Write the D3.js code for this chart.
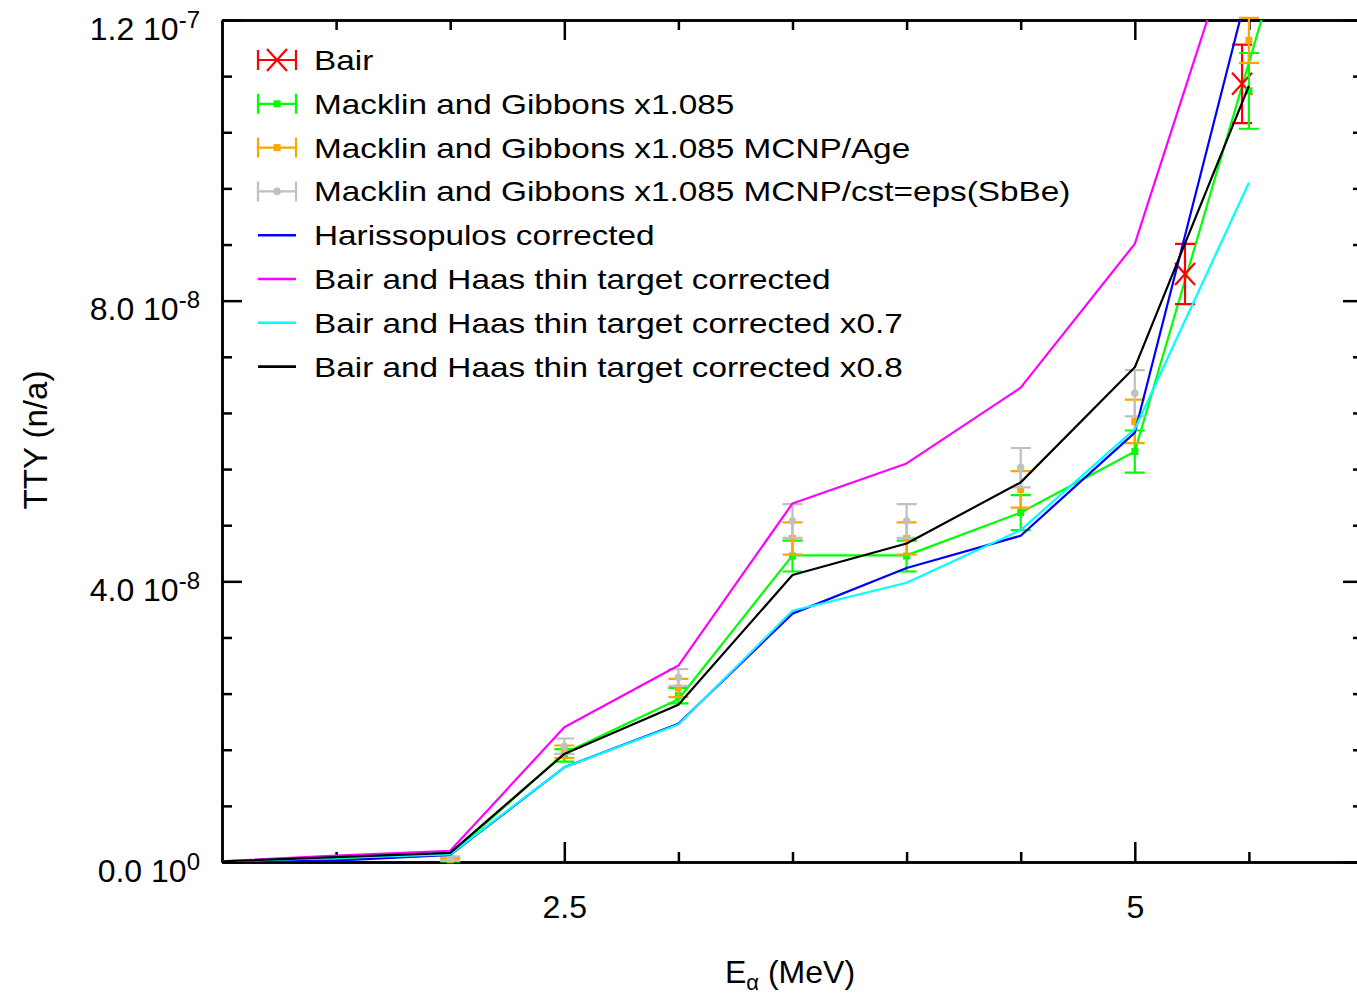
<!DOCTYPE html>
<html>
<head>
<meta charset="utf-8">
<script src="https://cdn.jsdelivr.net/npm/d3@7"></script>
<style>
  body { margin: 0; background: #fff; }
  text { font-family: 'Liberation Sans', Arial, sans-serif; }
</style>
</head>
<body>
<div class="canvas"></div>
<script>
// data, yields in units of 1e-8 n/a
const energies = [1.0, 1.5, 2.0, 2.5, 3.0, 3.5, 4.0, 4.5, 5.0, 5.5];
const harissopulos = [0.0, 0.02, 0.10, 1.35, 1.97, 3.54, 4.19, 4.65, 6.12, 12.5];
const bairHaas = [0.01, 0.09, 0.16, 1.92, 2.80, 5.11, 5.68, 6.76, 8.81, 13.83];
const bairHaas07 = [0.01, 0.06, 0.11, 1.35, 1.96, 3.58, 3.98, 4.73, 6.17, 9.68];
const bairHaas08 = [0.01, 0.07, 0.13, 1.54, 2.24, 4.09, 4.54, 5.41, 7.05, 11.06];

// green line drawn through Macklin and Gibbons (no key entry)
const macklinLineE = [1.0, 1.5, 2.0, 2.5, 3.0, 3.5, 4.0, 4.5, 5.0, 5.6];
const macklinLine = [0.0, 0.04, 0.10, 1.55, 2.32, 4.37, 4.37, 4.98, 5.85, 12.5];

const macklinE = [2.0, 2.5, 3.0, 3.5, 4.0, 4.5, 5.0, 5.5];
const macklin = [0.03, 1.52, 2.37, 4.36, 4.36, 4.98, 5.85, 10.99];
const macklinErr = [0.02, 0.09, 0.11, 0.22, 0.22, 0.25, 0.30, 0.54];
const mcnpAge = [0.04, 1.57, 2.48, 4.61, 4.61, 5.31, 6.28, 11.71];
const mcnpAgeErr = [0.02, 0.09, 0.13, 0.23, 0.23, 0.26, 0.31, 0.32];
const mcnpEpsE = [2.0, 2.5, 3.0, 3.5, 4.0, 4.5, 5.0];
const mcnpEps = [0.05, 1.65, 2.63, 4.86, 4.86, 5.62, 6.68];
const mcnpEpsErr = [0.03, 0.11, 0.12, 0.24, 0.24, 0.28, 0.33];

const bairE = [5.22, 5.47];
const bair = [8.38, 11.09];
const bairErr = [0.43, 0.56];

const xTicks = [2.5, 5];
const xMinorTicks = [1.5, 2, 3, 3.5, 4, 4.5, 5.5];
const yTicks = [0, 4e-8, 8e-8, 1.2e-7];

const legendLabels = [
  'Bair',
  'Macklin and Gibbons x1.085',
  'Macklin and Gibbons x1.085 MCNP/Age',
  'Macklin and Gibbons x1.085 MCNP/cst=eps(SbBe)',
  'Harissopulos corrected',
  'Bair and Haas thin target corrected',
  'Bair and Haas thin target corrected x0.7',
  'Bair and Haas thin target corrected x0.8'
];
const legendColors = ['#ff0000', '#00ff00', '#ffa500', '#c0c0c0', '#0000ff', '#ff00ff', '#00ffff', '#000000'];
const legendKinds = ['cross', 'square', 'square', 'circle', 'line', 'line', 'line', 'line'];

const svg = d3.select('.canvas')
  .append('svg')
  .attr('width', 1357)
  .attr('height', 993);

// margins and dimensions (right border falls just off the picture)
const margin = { top: 20, left: 222, bottom: 131 };
const graphWidth = 1141;
const graphHeight = 993 - margin.top - margin.bottom;

const graph = svg.append('g')
  .attr('transform', `translate(${margin.left},${margin.top})`);

// scales
const x = d3.scaleLinear().domain([1, 6]).range([0, graphWidth]);
const y = d3.scaleLinear().domain([0, 1.2e-7]).range([graphHeight, 0]);

const yMinor = d3.range(16).filter(i => i % 5 !== 0).map(i => i * 0.8e-8);

// axes, gnuplot style: inward ticks on all four sides
const styleAxis = (g) => {
  g.selectAll('path.domain').attr('stroke', '#000').attr('stroke-width', 2.5);
  g.selectAll('.tick line').attr('stroke', '#000').attr('stroke-width', 2.5);
  g.attr('font-size', 32).attr('font-family', 'Liberation Sans, Arial, sans-serif');
};

const addAxis = (axis, transform) => {
  const g = graph.append('g').attr('transform', transform).call(axis);
  styleAxis(g);
  return g;
};

const noLabel = () => '';

const xAxisGroup = addAxis(d3.axisBottom(x).tickValues(xTicks).tickSizeInner(-20).tickSizeOuter(0).tickFormat(d3.format('')),
  `translate(0,${graphHeight})`);
xAxisGroup.selectAll('.tick text').attr('y', 56).attr('dy', 0).attr('fill', '#000');
addAxis(d3.axisBottom(x).tickValues(xMinorTicks).tickSizeInner(-10).tickSizeOuter(0).tickFormat(noLabel),
  `translate(0,${graphHeight})`);
addAxis(d3.axisTop(x).tickValues(xTicks).tickSizeInner(-20).tickSizeOuter(0).tickFormat(noLabel), 'translate(0,0)');
addAxis(d3.axisTop(x).tickValues(xMinorTicks).tickSizeInner(-10).tickSizeOuter(0).tickFormat(noLabel), 'translate(0,0)');

const yAxisGroup = addAxis(d3.axisLeft(y).tickValues(yTicks).tickSizeInner(-20).tickSizeOuter(0).tickPadding(22),
  'translate(0,0)');
yAxisGroup.selectAll('.tick text').each(function (d) {
  const [m, ex] = d.toExponential(1).split('e');
  const t = d3.select(this).text(null).attr('dy', 19).attr('fill', '#000');
  t.append('tspan').text(m + ' 10');
  t.append('tspan').attr('dy', -12).attr('font-size', 24).text(String(+ex));
});
addAxis(d3.axisLeft(y).tickValues(yMinor).tickSizeInner(-10).tickSizeOuter(0).tickFormat(noLabel), 'translate(0,0)');
addAxis(d3.axisRight(y).tickValues(yTicks).tickSizeInner(-20).tickSizeOuter(0).tickFormat(noLabel),
  `translate(${graphWidth},0)`);
addAxis(d3.axisRight(y).tickValues(yMinor).tickSizeInner(-10).tickSizeOuter(0).tickFormat(noLabel),
  `translate(${graphWidth},0)`);

// axis titles
svg.append('text')
  .attr('transform', 'translate(47,440) rotate(-90)')
  .attr('text-anchor', 'middle')
  .attr('font-size', 33)
  .text('TTY (n/a)');

const xTitle = svg.append('text')
  .attr('x', 790).attr('y', 983)
  .attr('text-anchor', 'middle')
  .attr('font-size', 32);
xTitle.append('tspan').text('E');
xTitle.append('tspan').attr('dy', 7).attr('font-size', 22).text('α');
xTitle.append('tspan').attr('dy', -7).text(' (MeV)');

// clip for lines
graph.append('clipPath').attr('id', 'plotClip')
  .append('rect').attr('width', graphWidth).attr('height', graphHeight);

const line = d3.line().x(d => x(d[0])).y(d => y(d[1] * 1e-8));

const drawLine = (xs, ys, color) => {
  graph.append('path')
    .datum(xs.map((e, i) => [e, ys[i]]))
    .attr('clip-path', 'url(#plotClip)')
    .attr('fill', 'none')
    .attr('stroke', color)
    .attr('stroke-width', 2.2)
    .attr('stroke-linejoin', 'round')
    .attr('d', line);
};

const drawMarker = (g, kind, color, cx, cy) => {
  if (kind === 'cross') {
    g.append('path')
      .attr('d', `M${cx - 10},${cy - 11}L${cx + 10},${cy + 11}M${cx - 10},${cy + 11}L${cx + 10},${cy - 11}`)
      .attr('stroke', color).attr('stroke-width', 2.2).attr('fill', 'none');
  } else if (kind === 'square') {
    g.append('rect').attr('x', cx - 3.5).attr('y', cy - 3.5).attr('width', 7).attr('height', 7).attr('fill', color);
  } else if (kind === 'circle') {
    g.append('circle').attr('cx', cx).attr('cy', cy).attr('r', 3.8).attr('fill', color);
  }
};

const drawErrorBars = (xs, ys, errs, color, kind) => {
  const g = graph.append('g');
  const data = xs.map((e, i) => ({ e, v: ys[i] * 1e-8, err: errs[i] * 1e-8 }));
  data.forEach(d => {
    const cx = x(d.e);
    const lo = y(d.v - d.err);
    const hi = y(d.v + d.err);
    g.append('path')
      .attr('d', `M${cx},${lo}V${hi}M${cx - 10},${lo}H${cx + 10}M${cx - 10},${hi}H${cx + 10}`)
      .attr('stroke', color).attr('stroke-width', 2.2).attr('fill', 'none');
    drawMarker(g, kind, color, cx, y(d.v));
  });
};

// data layers, in key order
drawLine(macklinLineE, macklinLine, '#00ff00');
drawErrorBars(bairE, bair, bairErr, '#ff0000', 'cross');
drawErrorBars(macklinE, macklin, macklinErr, '#00ff00', 'square');
drawErrorBars(macklinE, mcnpAge, mcnpAgeErr, '#ffa500', 'square');
drawErrorBars(mcnpEpsE, mcnpEps, mcnpEpsErr, '#c0c0c0', 'circle');
drawLine(energies, harissopulos, '#0000ff');
drawLine(energies, bairHaas, '#ff00ff');
drawLine(energies, bairHaas07, '#00ffff');
drawLine(energies, bairHaas08, '#000000');

// key
const legend = svg.append('g');
legendLabels.forEach((label, i) => {
  const ry = 60 + i * 43.8;
  const color = legendColors[i];
  const kind = legendKinds[i];
  if (kind === 'line') {
    legend.append('path').attr('d', `M258,${ry}H296`)
      .attr('stroke', color).attr('stroke-width', 2.6).attr('fill', 'none');
  } else {
    legend.append('path')
      .attr('d', `M258,${ry}H296M258,${ry - 10}V${ry + 10}M296,${ry - 10}V${ry + 10}`)
      .attr('stroke', color).attr('stroke-width', 2.2).attr('fill', 'none');
    drawMarker(legend, kind, color, 277, ry);
  }
  legend.append('text')
    .attr('transform', `translate(314,${ry + 10}) scale(1.19,1)`)
    .attr('font-size', 28)
    .attr('fill', '#000')
    .text(label);
});
</script>
</body>
</html>
